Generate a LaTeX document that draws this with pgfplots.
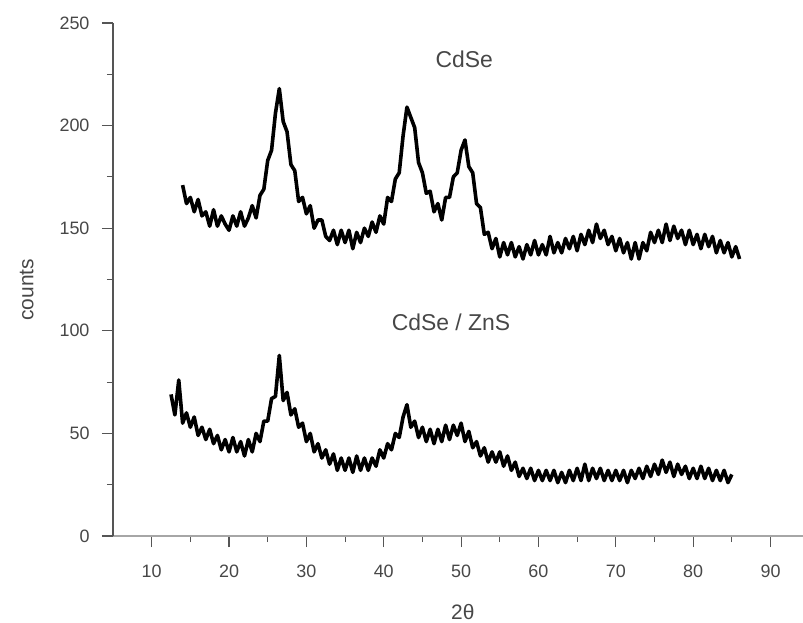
\documentclass[border=0pt]{standalone}
\usepackage{pgfplots}
\usepackage{pgfplotstable}
\pgfplotsset{compat=1.18}
\usepackage{fontspec}
\setmainfont{Liberation Sans}
\definecolor{txt}{HTML}{474747}
\definecolor{axc}{HTML}{555555}

\pgfplotstableread{
x y
14.0 171
14.5 162
15.0 165
15.5 158
16.0 164
16.5 156
17.0 158
17.5 151
18.0 159
18.5 151
19.0 156
19.5 152
20.0 149
20.5 156
21.0 151
21.5 158
22.0 151
22.5 155
23.0 161
23.5 155
24.0 166
24.5 169
25.0 183
25.5 188
26.0 206
26.5 218
27.0 202
27.5 197
28.0 181
28.5 178
29.0 163
29.5 165
30.0 157
30.5 161
31.0 150
31.5 154
32.0 154
32.5 146
33.0 144
33.5 149
34.0 142
34.5 149
35.0 143
35.5 149
36.0 140
36.5 148
37.0 143
37.5 150
38.0 146
38.5 153
39.0 148
39.5 156
40.0 152
40.5 165
41.0 163
41.5 174
42.0 177
42.5 195
43.0 209
43.5 204
44.0 199
44.5 182
45.0 177
45.5 167
46.0 168
46.5 158
47.0 162
47.5 154
48.0 165
48.5 165
49.0 175
49.5 177
50.0 188
50.5 193
51.0 180
51.5 177
52.0 162
52.5 160
53.0 147
53.5 148
54.0 140
54.5 145
55.0 136
55.5 143
56.0 137
56.5 143
57.0 136
57.5 141
58.0 135
58.5 142
59.0 137
59.5 144
60.0 137
60.5 142
61.0 137
61.5 146
62.0 138
62.5 143
63.0 138
63.5 145
64.0 140
64.5 146
65.0 139
65.5 147
66.0 142
66.5 149
67.0 143
67.5 152
68.0 145
68.5 149
69.0 142
69.5 146
70.0 139
70.5 145
71.0 138
71.5 143
72.0 135
72.5 143
73.0 135
73.5 143
74.0 139
74.5 148
75.0 143
75.5 149
76.0 143
76.5 152
77.0 144
77.5 151
78.0 145
78.5 149
79.0 142
79.5 149
80.0 142
80.5 147
81.0 140
81.5 147
82.0 141
82.5 146
83.0 138
83.5 144
84.0 138
84.5 143
85.0 136
85.5 141
86.0 135
}\cdse

\pgfplotstableread{
x y
12.5 69
13.0 59
13.5 76
14.0 55
14.5 60
15.0 53
15.5 58
16.0 49
16.5 53
17.0 47
17.5 52
18.0 45
18.5 49
19.0 42
19.5 47
20.0 41
20.5 48
21.0 41
21.5 46
22.0 39
22.5 47
23.0 41
23.5 50
24.0 46
24.5 56
25.0 56
25.5 67
26.0 68
26.5 88
27.0 66
27.5 70
28.0 59
28.5 62
29.0 53
29.5 55
30.0 46
30.5 50
31.0 41
31.5 45
32.0 38
32.5 42
33.0 35
33.5 40
34.0 32
34.5 38
35.0 32
35.5 38
36.0 31
36.5 39
37.0 32
37.5 38
38.0 32
38.5 38
39.0 34
39.5 42
40.0 38
40.5 45
41.0 42
41.5 50
42.0 48
42.5 58
43.0 64
43.5 53
44.0 56
44.5 48
45.0 53
45.5 46
46.0 52
46.5 45
47.0 52
47.5 46
48.0 54
48.5 47
49.0 54
49.5 49
50.0 55
50.5 46
51.0 51
51.5 43
52.0 46
52.5 39
53.0 43
53.5 36
54.0 41
54.5 36
55.0 41
55.5 34
56.0 39
56.5 32
57.0 36
57.5 29
58.0 33
58.5 28
59.0 33
59.5 27
60.0 32
60.5 27
61.0 32
61.5 27
62.0 32
62.5 26
63.0 31
63.5 26
64.0 32
64.5 27
65.0 33
65.5 27
66.0 35
66.5 27
67.0 33
67.5 28
68.0 33
68.5 27
69.0 32
69.5 27
70.0 32
70.5 27
71.0 32
71.5 26
72.0 32
72.5 28
73.0 33
73.5 28
74.0 34
74.5 29
75.0 35
75.5 30
76.0 37
76.5 31
77.0 36
77.5 29
78.0 35
78.5 30
79.0 34
79.5 28
80.0 33
80.5 28
81.0 34
81.5 28
82.0 33
82.5 27
83.0 32
83.5 27
84.0 32
84.5 26
85.0 30
}\zns

\begin{document}
\begin{tikzpicture}
\begin{axis}[
  at={(0,0)}, anchor=south west,
  scale only axis, width=690bp, height=513bp,
  xmin=5, xmax=94.2, ymin=0, ymax=250,
  axis x line=bottom, axis y line=left,
  axis line style={-},
  x axis line style={line width=2.4bp, color=gray!70},
  y axis line style={line width=1.1bp, color=axc},
  xtick={10,20,...,90}, minor xtick={15,25,...,85},
  ytick={0,50,...,250}, minor ytick={25,75,...,225},
  tick align=outside,
  major tick length=11bp, minor tick length=6bp,
  every tick/.style={color=axc, line width=1.1bp},
  tick label style={font=\fontsize{18}{18}\selectfont, text=txt},
  xticklabel style={yshift=-14bp},
  yticklabel style={xshift=-9bp},
  /pgf/number format/assume math mode=true,
  xlabel={2θ}, ylabel={counts},
  label style={font=\fontsize{21}{21}\selectfont, text=txt},
  xlabel style={at={(axis description cs:0.507,0)}, yshift=-76bp, anchor=center},
  ylabel style={at={(axis description cs:-0.125,0.48)}, anchor=center},
  clip=false,
]
\addplot[black, line width=3.6bp, line join=round] table[x=x,y=y] {\cdse};
\addplot[black, line width=3.6bp, line join=round] table[x=x,y=y] {\zns};
\node[font=\fontsize{23}{23}\selectfont, text=txt] at (axis cs:50.4,232.5) {CdSe};
\node[font=\fontsize{23}{23}\selectfont, text=txt] at (axis cs:48.7,104) {CdSe / ZnS};
\end{axis}
\pgfresetboundingbox
\path[use as bounding box] (-113bp,-87bp) rectangle (690bp,536bp);
\end{tikzpicture}
\end{document}
